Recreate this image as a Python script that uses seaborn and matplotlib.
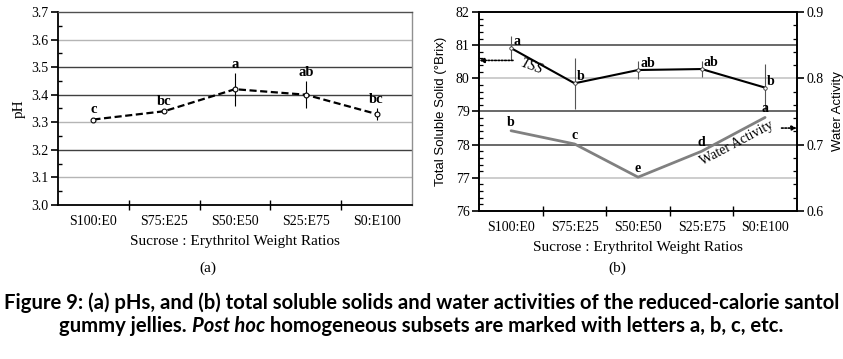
import numpy as np
import seaborn as sns
import matplotlib.pyplot as plt
from matplotlib.ticker import MultipleLocator, FixedLocator, NullFormatter

sns.set_theme(style="ticks")
plt.rcParams['font.family'] = ['Liberation Serif', 'DejaVu Serif']
plt.rcParams['axes.edgecolor'] = 'black'
plt.rcParams['text.color'] = 'black'
plt.rcParams['xtick.color'] = 'black'
plt.rcParams['ytick.color'] = 'black'
plt.rcParams['axes.labelcolor'] = 'black'

# data
ratios = ['S100:E0', 'S75:E25', 'S50:E50', 'S25:E75', 'S0:E100']
ph_mean = [3.31, 3.34, 3.42, 3.40, 3.33]
ph_err = [0.005, 0.005, 0.06, 0.05, 0.02]
ph_letters = ['c', 'bc', 'a', 'ab', 'bc']
tss_mean = [80.91, 79.85, 80.25, 80.28, 79.72]
tss_err = [0.37, 0.77, 0.26, 0.25, 0.70]
tss_letters = ['a', 'b', 'ab', 'ab', 'b']
aw_mean = [0.721, 0.701, 0.651, 0.690, 0.741]
aw_letters = ['b', 'c', 'e', 'd', 'a']

pos = np.arange(len(ratios))
cap_font = ['Lato', 'DejaVu Sans']

fig = plt.figure(figsize=(8.43, 3.59), dpi=100)
ax_a = fig.add_axes([0.0688, 0.429, 0.4199, 0.5376])
ax_b = fig.add_axes([0.5686, 0.4123, 0.3766, 0.5543])


def style_x(ax):
    ax.set_xlim(-0.5, 4.5)
    ax.xaxis.set_major_locator(FixedLocator([0.5, 1.5, 2.5, 3.5]))
    ax.xaxis.set_major_formatter(NullFormatter())
    ax.set_xticks(pos, labels=ratios, minor=True)
    ax.tick_params(axis='x', which='major', direction='inout', length=7, width=1)
    ax.tick_params(axis='x', which='minor', length=0, labelsize=10, pad=7)
    ax.set_xlabel('Sucrose : Erythritol Weight Ratios', fontsize=11, labelpad=5)


# ---------------- (a) pH ----------------
for v, c in [(3.1, '#b5b5b5'), (3.2, '#404040'), (3.3, '#b5b5b5'),
             (3.4, '#404040'), (3.5, '#404040'), (3.6, '#b5b5b5')]:
    ax_a.axhline(v, color=c, lw=1, zorder=0)

sns.lineplot(x=pos, y=ph_mean, ax=ax_a, color='black', lw=1.6,
             linestyle=(0, (3.2, 1.6)), marker='o', markersize=3.5,
             markerfacecolor='white', markeredgecolor='black', markeredgewidth=0.8,
             zorder=3)
ax_a.errorbar(pos, ph_mean, yerr=ph_err, fmt='none', ecolor='black', elinewidth=0.8,
              capsize=0, zorder=2)
for x, y, e, t in zip(pos, ph_mean, ph_err, ph_letters):
    ax_a.annotate(t, (x, y + e), xytext=(0, 1.5), textcoords='offset points',
                  ha='center', va='bottom', fontsize=10.5, fontweight='bold')

ax_a.set_ylim(3.0, 3.7)
ax_a.yaxis.set_major_locator(MultipleLocator(0.1))
ax_a.yaxis.set_minor_locator(MultipleLocator(0.05))
ax_a.yaxis.set_major_formatter(plt.FuncFormatter(lambda v, p: f'{v:.1f}'))
ax_a.tick_params(axis='y', which='major', direction='out', length=5, width=1.2, labelsize=10, pad=2)
ax_a.tick_params(axis='y', which='minor', direction='in', length=3, width=1)
ax_a.set_ylabel('pH', fontsize=11, labelpad=4)
style_x(ax_a)
ax_a.spines['top'].set_color('#505050')
ax_a.spines['right'].set_color('#909090')
for s in ax_a.spines.values():
    s.set_linewidth(1)
ax_a.spines['bottom'].set_linewidth(1.3)
ax_a.spines['left'].set_linewidth(1.3)

# ---------------- (b) TSS / Aw ----------------
for v, c in [(77, '#c0c0c0'), (78, '#404040'), (79, '#404040'),
             (80, '#c0c0c0'), (81, '#404040')]:
    ax_b.axhline(v, color=c, lw=1.1, zorder=0)

sns.lineplot(x=pos, y=tss_mean, ax=ax_b, color='black', lw=1.5, marker='o',
             markersize=2.5, markerfacecolor='white', markeredgecolor='#333333',
             markeredgewidth=0.6, zorder=3)
ax_b.errorbar(pos, tss_mean, yerr=tss_err, fmt='none', ecolor='#555555', elinewidth=0.8,
              capsize=0, zorder=2)
for x, y, t in zip(pos, tss_mean, tss_letters):
    ax_b.annotate(t, (x, y), xytext=(1.5, 0), textcoords='offset points',
                  ha='left', va='bottom', fontsize=10, fontweight='bold')

ax_b.set_ylim(76, 82)
ax_b.yaxis.set_major_locator(MultipleLocator(1))
ax_b.yaxis.set_minor_locator(MultipleLocator(0.2))
ax_b.tick_params(axis='y', which='major', direction='out', length=5, width=1.2, labelsize=10, pad=2)
ax_b.tick_params(axis='y', which='minor', direction='in', length=3, width=0.9)
ax_b.set_ylabel('Total Soluble Solid (°Brix)', fontsize=9.5, labelpad=6,
                family=['Liberation Sans', 'DejaVu Sans'])
style_x(ax_b)

ax_w = ax_b.twinx()
sns.lineplot(x=pos, y=aw_mean, ax=ax_w, color='#808080', lw=2.0, zorder=3)
for x, y, t in zip(pos, aw_mean, aw_letters):
    ax_w.annotate(t, (x, y), xytext=(0, 1.5), textcoords='offset points',
                  ha='center', va='bottom', fontsize=10, fontweight='bold')
ax_w.set_ylim(0.6, 0.9)
ax_w.yaxis.set_major_locator(MultipleLocator(0.1))
ax_w.yaxis.set_minor_locator(MultipleLocator(0.02))
ax_w.yaxis.set_major_formatter(plt.FuncFormatter(lambda v, p: f'{v:.1f}'))
ax_w.tick_params(axis='y', which='major', direction='out', length=5, width=1.2, labelsize=10, pad=2)
ax_w.tick_params(axis='y', which='minor', direction='in', length=3, width=0.9)
ax_w.set_ylabel('Water Activity', fontsize=9.5, labelpad=6,
                family=['Liberation Sans', 'DejaVu Sans'])
ax_w.set_xlim(-0.5, 4.5)
for a in (ax_b, ax_w):
    for s in a.spines.values():
        s.set_linewidth(1.2)

# TSS / Water Activity callouts
ax_b.annotate('', xy=(-0.5, tss_mean[0] - tss_err[0]), xytext=(0.03, tss_mean[0] - tss_err[0]),
              arrowprops=dict(arrowstyle='-|>', color='black', lw=1.2,
                              linestyle=(0, (1, 1)), mutation_scale=7, shrinkA=0, shrinkB=0))
ax_b.text(0.32, 80.34, 'TSS', fontsize=10.5, style='italic', rotation=-20,
          ha='center', va='center')
ax_w.annotate('', xy=(4.5, 0.725), xytext=(4.26, 0.725),
              arrowprops=dict(arrowstyle='-|>', color='black', lw=1.2,
                              linestyle=(0, (1, 1)), mutation_scale=7, shrinkA=0, shrinkB=0))
ax_w.text(3.56, 0.702, 'Water Activity', fontsize=10, rotation=28,
          ha='center', va='center')

# sub-figure labels
fig.text(0.247, 0.253, '(a)', fontsize=11, ha='center', va='center')
fig.text(0.732, 0.253, '(b)', fontsize=11, ha='center', va='center')


# caption, two centred lines with an italic piece
def caption_line(pieces, y, size):
    texts = [fig.text(0, y, s, fontsize=size, fontweight='bold', style=st,
                      family=cap_font, ha='left', va='baseline') for s, st in pieces]
    fig.canvas.draw()
    r = fig.canvas.get_renderer()
    widths = [t.get_window_extent(r).width for t in texts]
    x = (fig.bbox.width - sum(widths)) / 2
    for t, w in zip(texts, widths):
        t.set_x(x / fig.bbox.width)
        x += w


caption_line([('Figure 9: (a) pHs, and (b) total soluble solids and water activities of the '
               'reduced-calorie santol', 'normal')], 1 - 309 / 359, 14.6)
caption_line([('gummy jellies. ', 'normal'), ('Post hoc', 'italic'),
              (' homogeneous subsets are marked with letters a, b, c, etc.', 'normal')],
             1 - 332 / 359, 14.6)

fig.savefig('out.png', dpi=100, facecolor='white')
